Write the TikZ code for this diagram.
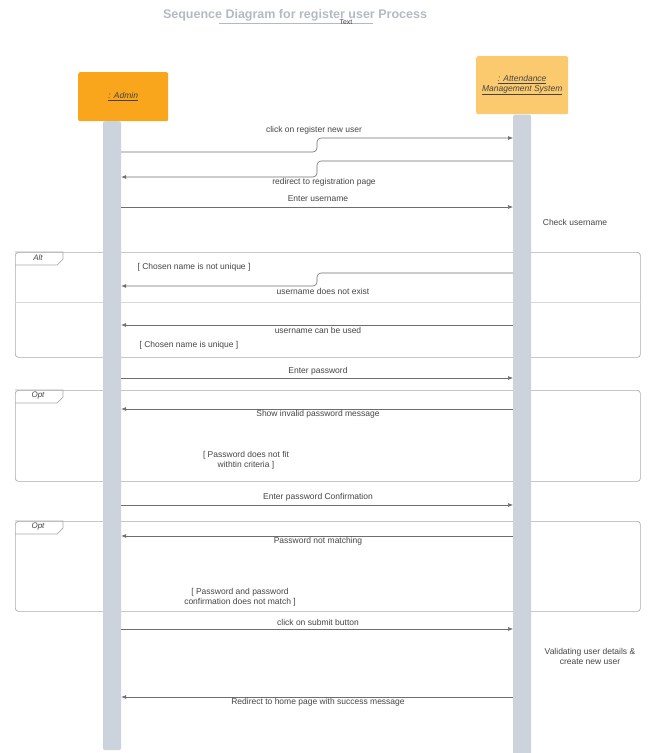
\documentclass[tikz,border=0pt]{standalone}
\usepackage{fontspec}
\setmainfont{Liberation Sans}
\usetikzlibrary{arrows.meta}

\definecolor{boxorange}{HTML}{F9A61C}
\definecolor{boxlight}{HTML}{FCCA6E}
\definecolor{barcol}{HTML}{CDD3DD}
\definecolor{framecol}{HTML}{A9ABAE}
\definecolor{linecol}{HTML}{6E6E6E}
\definecolor{txtcol}{HTML}{444444}
\definecolor{titlecol}{HTML}{B4B9C4}

\tikzset{
    actor/.style={rounded corners=2, inner sep=0, align=center, anchor=north west,
        font=\fontsize{8.5}{10}\selectfont\itshape, text=txtcol},
    lifebar/.style={fill=barcol, rounded corners=2, minimum width=18, inner sep=0, anchor=north},
    msg/.style={draw=linecol, line width=0.6, -{Latex[length=5pt,width=4pt]}},
    lbl/.style={font=\fontsize{8.5}{10}\selectfont, text=txtcol, inner sep=0, align=center},
    frame/.style={draw=framecol, line width=0.7, rounded corners=3, anchor=north west,
        inner sep=0, minimum width=625},
    tab/.style={draw=framecol, line width=0.7},
    tablbl/.style={font=\fontsize{8}{9}\selectfont\itshape, text=txtcol, inner sep=0},
}

\begin{document}
\begin{tikzpicture}[x=1pt,y=-1pt]
    \useasboundingbox (0,0) rectangle (649,753);

    % title
    \node[font=\fontsize{12.5}{14}\selectfont\bfseries, text=titlecol] (title) at (295,15) {Sequence Diagram for register user Process};
    \draw[titlecol, line width=0.6] (219,23) -- (373,23);
    \node[font=\fontsize{7}{8}\selectfont, text=black!75, inner sep=0] (txt) at (346,22) {Text};

    % fragments
    \node[frame, minimum height=105] (alt) at (15,252) {};
    \node[frame, minimum height=91] (opt1) at (15,390) {};
    \node[frame, minimum height=90] (opt2) at (15,521) {};
    \foreach \f/\t in {alt/Alt, opt1/Opt, opt2/Opt} {
        \draw[tab] (\f.north west) -- ++(48,0) -- ++(0,7) -- ++(-6,6) -- ++(-42,0);
        \node[tablbl] at ([shift={(23,6)}]\f.north west) {\t};
    }
    \draw[framecol!45, line width=0.6] (alt.west |- 0,302) -- (alt.east |- 0,302);

    % lifelines
    \node[actor, fill=boxorange, minimum width=90, minimum height=49] (admin) at (78,72) {\underline{: Admin}};
    \node[actor, fill=boxlight, minimum width=92, minimum height=58] (ams) at (476,56) {\underline{: Attendance}\\\underline{Management System}};
    \node[lifebar, minimum height=629] (abar) at (112,121) {};
    \node[lifebar, minimum height=645] (sbar) at (ams.south) {};

    % message rows
    \foreach \n/\y in {m1/152, j1/138, m2/161, j2/177, m3/207, m4/273, j4/286, m5/325,
        m6/378, m7/409, m8/505, m9/536, m10/629, m11/697}
        \coordinate (\n) at (317,\y);

    \draw[msg, rounded corners=4] (abar.east |- m1) -| (j1) -- (sbar.west |- j1);
    \draw[msg, rounded corners=4] (sbar.west |- m2) -| (j2) -- (abar.east |- j2);
    \draw[msg, rounded corners=4] (sbar.west |- m4) -| (j4) -- (abar.east |- j4);
    \foreach \m in {m3,m6,m8,m10}
        \draw[msg] (abar.east |- \m) -- (sbar.west |- \m);
    \foreach \m in {m5,m7,m9,m11}
        \draw[msg] (sbar.west |- \m) -- (abar.east |- \m);

    % labels
    \node[lbl] (l1) at (314,130) {click on register new user};
    \node[lbl] (l2) at (324,182) {redirect to registration page};
    \node[lbl] (l3) at (318,199) {Enter username};
    \node[lbl] (chk) at (575,222) {Check username};
    \node[lbl] (g1) at (194,267) {[ Chosen name is not unique ]};
    \node[lbl] (l4) at (323,291) {username does not exist};
    \node[lbl] (l5) at (318,330) {username can be used};
    \node[lbl] (g2) at (189,345) {[ Chosen name is unique ]};
    \node[lbl] (l6) at (318,371) {Enter password};
    \node[lbl] (l7) at (318,414) {Show invalid password message};
    \node[lbl] (g3) at (246,460) {[ Password does not fit\\ withtin criteria ]};
    \node[lbl] (l8) at (318,497) {Enter password Confirmation};
    \node[lbl] (l9) at (318,541) {Password not matching};
    \node[lbl] (g4) at (240,597) {[ Password and password\\ confirmation does not match ]};
    \node[lbl] (l10) at (318,622) {click on submit button};
    \node[lbl] (val) at (590,656) {Validating user details \&\\ create new user};
    \node[lbl] (l11) at (318,702) {Redirect to home page with success message};
\end{tikzpicture}
\end{document}
